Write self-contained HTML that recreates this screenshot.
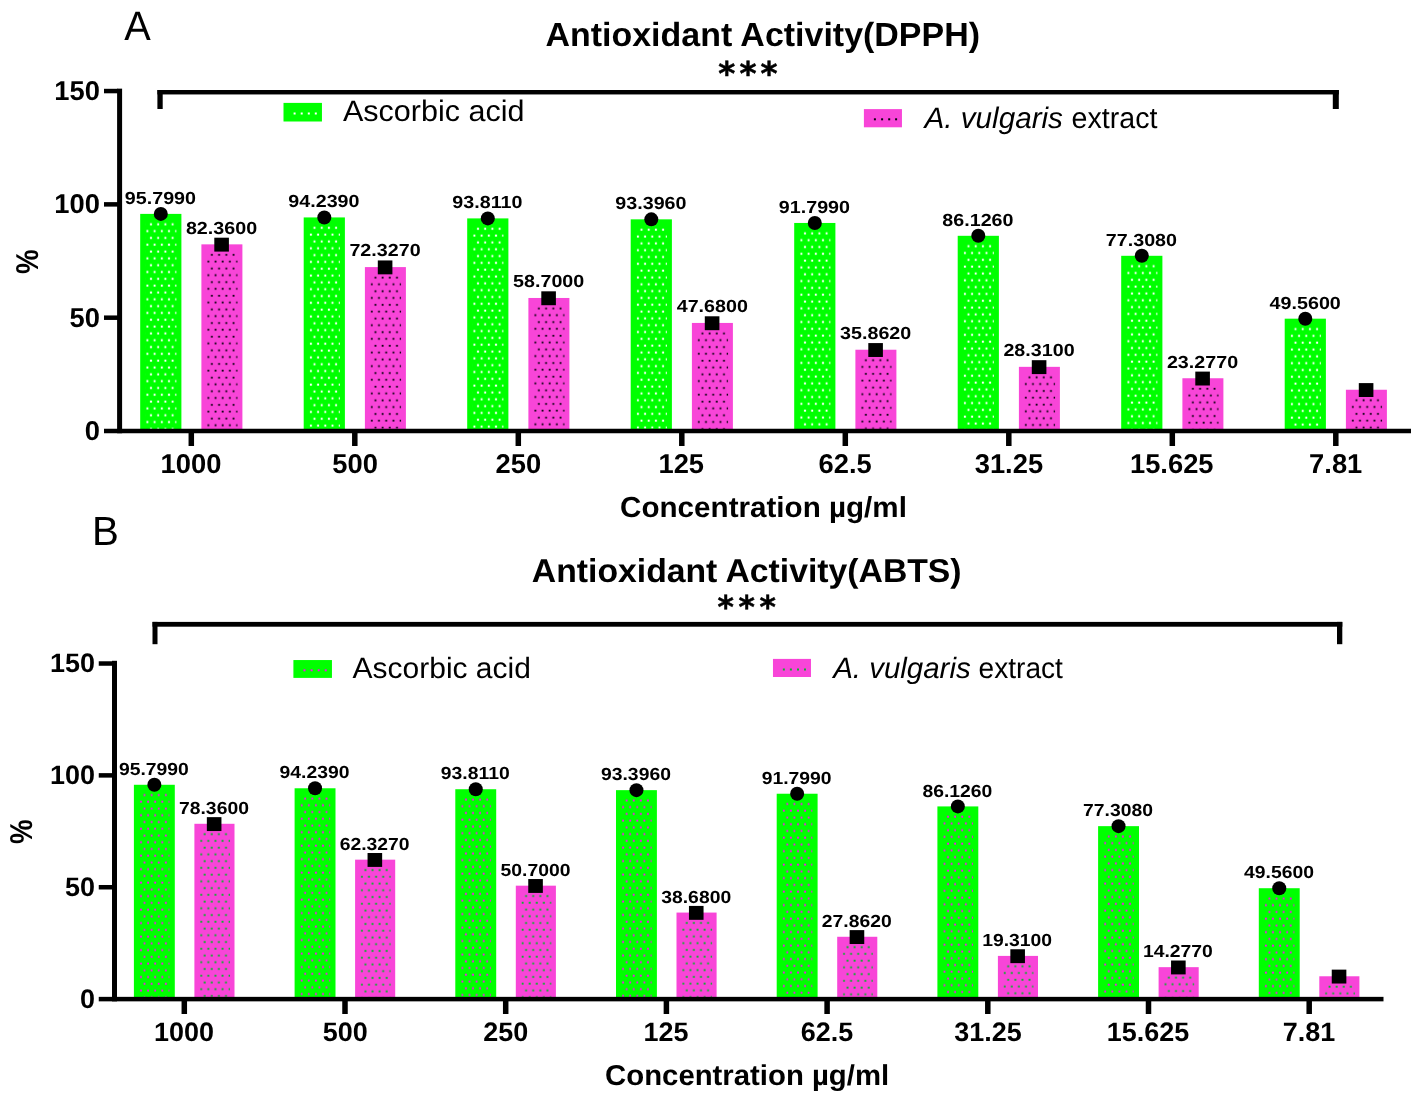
<!DOCTYPE html>
<html lang="en"><head><meta charset="utf-8"><title>Antioxidant Activity</title>
<style>html,body{margin:0;padding:0;background:#fff}svg{display:block;will-change:transform}text{text-rendering:geometricPrecision}</style></head>
<body>
<svg width="1417" height="1098" viewBox="0 0 1417 1098" font-family='"Liberation Sans", Arial, Helvetica, sans-serif' fill="#000">
<defs>
<pattern id="patAg" patternUnits="userSpaceOnUse" width="7.2" height="13.64"><rect x="2.60" y="9.40" width="2.0" height="2.0" fill="#ffffff"/><rect x="-1.00" y="2.56" width="2.0" height="2.0" fill="#ffffff"/><rect x="6.20" y="2.56" width="2.0" height="2.0" fill="#ffffff"/></pattern>
<pattern id="patAp" patternUnits="userSpaceOnUse" width="7.2" height="13.64"><rect x="2.40" y="9.60" width="1.8" height="1.8" fill="#08000c"/><rect x="-1.20" y="2.66" width="1.8" height="1.8" fill="#08000c"/><rect x="6.00" y="2.66" width="1.8" height="1.8" fill="#08000c"/></pattern>
<pattern id="patBg" patternUnits="userSpaceOnUse" width="7.1" height="13.48"><rect x="2.55" y="9.35" width="1.9" height="1.9" fill="#ff08f4"/><rect x="-0.95" y="2.57" width="1.9" height="1.9" fill="#ff08f4"/><rect x="6.15" y="2.57" width="1.9" height="1.9" fill="#ff08f4"/></pattern>
<pattern id="patBp" patternUnits="userSpaceOnUse" width="7.1" height="13.48"><rect x="2.25" y="9.45" width="1.9" height="1.9" fill="#08b428"/><rect x="-1.25" y="2.67" width="1.9" height="1.9" fill="#08b428"/><rect x="5.85" y="2.67" width="1.9" height="1.9" fill="#08b428"/></pattern>
</defs>
<rect width="1417" height="1098" fill="#fff"/>
<rect x="140.20" y="213.89" width="41.20" height="217.11" fill="#00ff00" />
<rect transform="translate(140.20,213.89)" x="5.5" y="8.0" width="30.70" height="206.86" fill="url(#patAg)"/>
<rect x="201.40" y="244.35" width="41.00" height="186.65" fill="#f845d8" />
<rect transform="translate(201.40,244.35)" x="5.5" y="8.0" width="30.70" height="176.40" fill="url(#patAp)"/>
<rect x="303.70" y="217.43" width="41.20" height="213.57" fill="#00ff00" />
<rect transform="translate(303.70,217.43)" x="5.5" y="8.0" width="30.70" height="203.32" fill="url(#patAg)"/>
<rect x="364.90" y="267.09" width="41.00" height="163.91" fill="#f845d8" />
<rect transform="translate(364.90,267.09)" x="5.5" y="8.0" width="30.70" height="153.66" fill="url(#patAp)"/>
<rect x="467.20" y="218.40" width="41.20" height="212.60" fill="#00ff00" />
<rect transform="translate(467.20,218.40)" x="5.5" y="8.0" width="30.70" height="202.35" fill="url(#patAg)"/>
<rect x="528.40" y="297.97" width="41.00" height="133.03" fill="#f845d8" />
<rect transform="translate(528.40,297.97)" x="5.5" y="8.0" width="30.70" height="122.78" fill="url(#patAp)"/>
<rect x="630.70" y="219.34" width="41.20" height="211.66" fill="#00ff00" />
<rect transform="translate(630.70,219.34)" x="5.5" y="8.0" width="30.70" height="201.41" fill="url(#patAg)"/>
<rect x="691.90" y="322.94" width="41.00" height="108.06" fill="#f845d8" />
<rect transform="translate(691.90,322.94)" x="5.5" y="8.0" width="30.70" height="97.81" fill="url(#patAp)"/>
<rect x="794.20" y="222.96" width="41.20" height="208.04" fill="#00ff00" />
<rect transform="translate(794.20,222.96)" x="5.5" y="8.0" width="30.70" height="197.79" fill="url(#patAg)"/>
<rect x="855.40" y="349.73" width="41.00" height="81.27" fill="#f845d8" />
<rect transform="translate(855.40,349.73)" x="5.5" y="8.0" width="30.70" height="71.02" fill="url(#patAp)"/>
<rect x="957.70" y="235.81" width="41.20" height="195.19" fill="#00ff00" />
<rect transform="translate(957.70,235.81)" x="5.5" y="8.0" width="30.70" height="184.94" fill="url(#patAg)"/>
<rect x="1018.90" y="366.84" width="41.00" height="64.16" fill="#f845d8" />
<rect transform="translate(1018.90,366.84)" x="5.5" y="8.0" width="30.70" height="53.91" fill="url(#patAp)"/>
<rect x="1121.20" y="255.80" width="41.20" height="175.20" fill="#00ff00" />
<rect transform="translate(1121.20,255.80)" x="5.5" y="8.0" width="30.70" height="164.95" fill="url(#patAg)"/>
<rect x="1182.40" y="378.25" width="41.00" height="52.75" fill="#f845d8" />
<rect transform="translate(1182.40,378.25)" x="5.5" y="8.0" width="30.70" height="42.50" fill="url(#patAp)"/>
<rect x="1284.70" y="318.68" width="41.20" height="112.32" fill="#00ff00" />
<rect transform="translate(1284.70,318.68)" x="5.5" y="8.0" width="30.70" height="102.07" fill="url(#patAg)"/>
<rect x="1345.90" y="389.75" width="41.00" height="41.25" fill="#f845d8" />
<rect transform="translate(1345.90,389.75)" x="5.5" y="8.0" width="30.70" height="31.00" fill="url(#patAp)"/>
<rect x="117.10" y="88.65" width="5.00" height="344.60" fill="#000" />
<rect x="104.00" y="428.75" width="1307.00" height="4.50" fill="#000" />
<rect x="104.00" y="315.44" width="14.10" height="4.50" fill="#000" />
<rect x="104.00" y="202.12" width="14.10" height="4.50" fill="#000" />
<rect x="104.00" y="88.80" width="14.10" height="4.50" fill="#000" />
<rect x="188.55" y="431.00" width="5.50" height="15.00" fill="#000" />
<rect x="352.05" y="431.00" width="5.50" height="15.00" fill="#000" />
<rect x="515.55" y="431.00" width="5.50" height="15.00" fill="#000" />
<rect x="679.05" y="431.00" width="5.50" height="15.00" fill="#000" />
<rect x="842.55" y="431.00" width="5.50" height="15.00" fill="#000" />
<rect x="1006.05" y="431.00" width="5.50" height="15.00" fill="#000" />
<rect x="1169.55" y="431.00" width="5.50" height="15.00" fill="#000" />
<rect x="1333.05" y="431.00" width="5.50" height="15.00" fill="#000" />
<text transform="translate(84.70,440.00) scale(1.0050,1)" font-size="27.20" font-weight="bold">0</text>
<text transform="translate(69.50,326.69) scale(1.0050,1)" font-size="27.20" font-weight="bold">50</text>
<text transform="translate(54.30,213.37) scale(1.0050,1)" font-size="27.20" font-weight="bold">100</text>
<text transform="translate(54.30,100.05) scale(1.0050,1)" font-size="27.20" font-weight="bold">150</text>
<text transform="translate(160.59,473.00) scale(1.0050,1)" font-size="27.20" font-weight="bold">1000</text>
<text transform="translate(332.34,473.00) scale(1.0050,1)" font-size="27.20" font-weight="bold">500</text>
<text transform="translate(495.62,473.00) scale(1.0050,1)" font-size="27.20" font-weight="bold">250</text>
<text transform="translate(658.48,473.00) scale(1.0050,1)" font-size="27.20" font-weight="bold">125</text>
<text transform="translate(818.61,473.00) scale(1.0050,1)" font-size="27.20" font-weight="bold">62.5</text>
<text transform="translate(974.72,473.00) scale(1.0050,1)" font-size="27.20" font-weight="bold">31.25</text>
<text transform="translate(1129.98,473.00) scale(1.0050,1)" font-size="27.20" font-weight="bold">15.625</text>
<text transform="translate(1309.11,473.00) scale(1.0050,1)" font-size="27.20" font-weight="bold">7.81</text>
<circle cx="160.80" cy="213.89" r="7.0" fill="#000"/>
<rect x="214.30" y="237.70" width="14.60" height="13.90" fill="#000" />
<text transform="translate(124.81,203.89) scale(1.1250,1)" font-size="17.50" font-weight="bold">95.7990</text>
<text transform="translate(185.91,233.65) scale(1.1250,1)" font-size="17.50" font-weight="bold">82.3600</text>
<circle cx="324.30" cy="217.43" r="7.0" fill="#000"/>
<rect x="377.80" y="260.44" width="14.60" height="13.90" fill="#000" />
<text transform="translate(288.31,207.43) scale(1.1250,1)" font-size="17.50" font-weight="bold">94.2390</text>
<text transform="translate(349.41,256.39) scale(1.1250,1)" font-size="17.50" font-weight="bold">72.3270</text>
<circle cx="487.80" cy="218.40" r="7.0" fill="#000"/>
<rect x="541.30" y="291.32" width="14.60" height="13.90" fill="#000" />
<text transform="translate(452.35,208.40) scale(1.1250,1)" font-size="17.50" font-weight="bold">93.8110</text>
<text transform="translate(513.06,287.27) scale(1.1250,1)" font-size="17.50" font-weight="bold">58.7000</text>
<circle cx="651.30" cy="219.34" r="7.0" fill="#000"/>
<rect x="704.80" y="316.29" width="14.60" height="13.90" fill="#000" />
<text transform="translate(615.31,209.34) scale(1.1250,1)" font-size="17.50" font-weight="bold">93.3960</text>
<text transform="translate(676.72,312.24) scale(1.1250,1)" font-size="17.50" font-weight="bold">47.6800</text>
<circle cx="814.80" cy="222.96" r="7.0" fill="#000"/>
<rect x="868.30" y="343.08" width="14.60" height="13.90" fill="#000" />
<text transform="translate(778.81,212.96) scale(1.1250,1)" font-size="17.50" font-weight="bold">91.7990</text>
<text transform="translate(840.06,339.03) scale(1.1250,1)" font-size="17.50" font-weight="bold">35.8620</text>
<circle cx="978.30" cy="235.81" r="7.0" fill="#000"/>
<rect x="1031.80" y="360.19" width="14.60" height="13.90" fill="#000" />
<text transform="translate(942.31,225.81) scale(1.1250,1)" font-size="17.50" font-weight="bold">86.1260</text>
<text transform="translate(1003.41,356.14) scale(1.1250,1)" font-size="17.50" font-weight="bold">28.3100</text>
<circle cx="1141.80" cy="255.80" r="7.0" fill="#000"/>
<rect x="1195.30" y="371.60" width="14.60" height="13.90" fill="#000" />
<text transform="translate(1105.81,245.80) scale(1.1250,1)" font-size="17.50" font-weight="bold">77.3080</text>
<text transform="translate(1166.91,367.55) scale(1.1250,1)" font-size="17.50" font-weight="bold">23.2770</text>
<circle cx="1305.30" cy="318.68" r="7.0" fill="#000"/>
<rect x="1358.80" y="383.10" width="14.60" height="13.90" fill="#000" />
<text transform="translate(1269.62,308.68) scale(1.1250,1)" font-size="17.50" font-weight="bold">49.5600</text>
<rect x="157.40" y="90.00" width="1181.40" height="4.45" fill="#000" />
<rect x="157.40" y="90.00" width="5.30" height="19.00" fill="#000" />
<rect x="1332.80" y="90.00" width="6.00" height="19.00" fill="#000" />
<text transform="translate(545.47,46.30) scale(1.0112,1)" font-size="33.60" font-weight="bold">Antioxidant Activity(DPPH)</text>
<text x="718.30" y="84.80" font-family="'DejaVu Sans', sans-serif" font-weight="bold" font-size="32.6" letter-spacing="4.05" stroke="#000" stroke-width="0.5">***</text>
<text transform="translate(620.07,517.10) scale(1.0247,1)" font-size="28.90" font-weight="bold">Concentration µg/ml</text>
<text transform="translate(37.90,261.75) rotate(-90) scale(0.875,1)" font-size="31.6" font-weight="bold" text-anchor="middle">%</text>
<text transform="translate(124.20,39.50) scale(0.9646,1)" font-size="41.20">A</text>
<rect x="283.50" y="102.90" width="38.45" height="18.60" fill="#00ff00" />
<rect x="293.60" y="112.50" width="2.00" height="2.00" fill="#ffffff" />
<rect x="300.70" y="112.50" width="2.00" height="2.00" fill="#ffffff" />
<rect x="307.80" y="112.50" width="2.00" height="2.00" fill="#ffffff" />
<rect x="314.80" y="112.50" width="2.00" height="2.00" fill="#ffffff" />
<rect x="863.90" y="109.10" width="38.05" height="18.20" fill="#f845d8" />
<rect x="873.90" y="118.30" width="2.00" height="2.00" fill="#08000c" />
<rect x="881.10" y="118.30" width="2.00" height="2.00" fill="#08000c" />
<rect x="888.20" y="118.30" width="2.00" height="2.00" fill="#08000c" />
<rect x="895.10" y="118.30" width="2.00" height="2.00" fill="#08000c" />
<text transform="translate(343.00,121.10) scale(1.0312,1)" font-size="29.60">Ascorbic acid</text>
<text transform="translate(924.55,127.50) scale(1.0016,1)" font-size="29.60" font-style="italic">A. vulgaris</text>
<text transform="translate(1071.61,127.50) scale(0.9659,1)" font-size="29.60">extract</text>
<rect x="133.90" y="784.78" width="40.90" height="214.32" fill="#00ff00" />
<rect transform="translate(133.90,784.78)" x="5.5" y="8.0" width="30.10" height="204.07" fill="url(#patBg)"/>
<rect x="194.40" y="823.79" width="40.10" height="175.31" fill="#f845d8" />
<rect transform="translate(194.40,823.79)" x="5.5" y="8.0" width="30.10" height="165.06" fill="url(#patBp)"/>
<rect x="294.60" y="788.27" width="40.90" height="210.83" fill="#00ff00" />
<rect transform="translate(294.60,788.27)" x="5.5" y="8.0" width="30.10" height="200.58" fill="url(#patBg)"/>
<rect x="355.10" y="859.66" width="40.10" height="139.44" fill="#f845d8" />
<rect transform="translate(355.10,859.66)" x="5.5" y="8.0" width="30.10" height="129.19" fill="url(#patBp)"/>
<rect x="455.30" y="789.23" width="40.90" height="209.87" fill="#00ff00" />
<rect transform="translate(455.30,789.23)" x="5.5" y="8.0" width="30.10" height="199.62" fill="url(#patBg)"/>
<rect x="515.80" y="885.67" width="40.10" height="113.43" fill="#f845d8" />
<rect transform="translate(515.80,885.67)" x="5.5" y="8.0" width="30.10" height="103.18" fill="url(#patBp)"/>
<rect x="616.00" y="790.15" width="40.90" height="208.95" fill="#00ff00" />
<rect transform="translate(616.00,790.15)" x="5.5" y="8.0" width="30.10" height="198.70" fill="url(#patBg)"/>
<rect x="676.50" y="912.57" width="40.10" height="86.53" fill="#f845d8" />
<rect transform="translate(676.50,912.57)" x="5.5" y="8.0" width="30.10" height="76.28" fill="url(#patBp)"/>
<rect x="776.70" y="793.73" width="40.90" height="205.37" fill="#00ff00" />
<rect transform="translate(776.70,793.73)" x="5.5" y="8.0" width="30.10" height="195.12" fill="url(#patBg)"/>
<rect x="837.20" y="936.77" width="40.10" height="62.33" fill="#f845d8" />
<rect transform="translate(837.20,936.77)" x="5.5" y="8.0" width="30.10" height="52.08" fill="url(#patBp)"/>
<rect x="937.40" y="806.42" width="40.90" height="192.68" fill="#00ff00" />
<rect transform="translate(937.40,806.42)" x="5.5" y="8.0" width="30.10" height="182.43" fill="url(#patBg)"/>
<rect x="997.90" y="955.90" width="40.10" height="43.20" fill="#f845d8" />
<rect transform="translate(997.90,955.90)" x="5.5" y="8.0" width="30.10" height="32.95" fill="url(#patBp)"/>
<rect x="1098.10" y="826.15" width="40.90" height="172.95" fill="#00ff00" />
<rect transform="translate(1098.10,826.15)" x="5.5" y="8.0" width="30.10" height="162.70" fill="url(#patBg)"/>
<rect x="1158.60" y="967.16" width="40.10" height="31.94" fill="#f845d8" />
<rect transform="translate(1158.60,967.16)" x="5.5" y="8.0" width="30.10" height="21.69" fill="url(#patBp)"/>
<rect x="1258.80" y="888.22" width="40.90" height="110.88" fill="#00ff00" />
<rect transform="translate(1258.80,888.22)" x="5.5" y="8.0" width="30.10" height="100.63" fill="url(#patBg)"/>
<rect x="1319.30" y="976.28" width="40.10" height="22.82" fill="#f845d8" />
<rect transform="translate(1319.30,976.28)" x="5.5" y="8.0" width="30.10" height="12.57" fill="url(#patBp)"/>
<rect x="112.00" y="660.80" width="5.00" height="340.55" fill="#000" />
<rect x="98.75" y="996.85" width="1284.75" height="4.50" fill="#000" />
<rect x="98.75" y="884.99" width="14.25" height="4.50" fill="#000" />
<rect x="98.75" y="773.13" width="14.25" height="4.50" fill="#000" />
<rect x="98.75" y="661.27" width="14.25" height="4.50" fill="#000" />
<rect x="181.55" y="999.10" width="5.50" height="14.90" fill="#000" />
<rect x="342.25" y="999.10" width="5.50" height="14.90" fill="#000" />
<rect x="502.95" y="999.10" width="5.50" height="14.90" fill="#000" />
<rect x="663.65" y="999.10" width="5.50" height="14.90" fill="#000" />
<rect x="824.35" y="999.10" width="5.50" height="14.90" fill="#000" />
<rect x="985.05" y="999.10" width="5.50" height="14.90" fill="#000" />
<rect x="1145.75" y="999.10" width="5.50" height="14.90" fill="#000" />
<rect x="1306.45" y="999.10" width="5.50" height="14.90" fill="#000" />
<text transform="translate(80.00,1007.60) scale(1.0100,1)" font-size="26.70" font-weight="bold">0</text>
<text transform="translate(65.00,895.74) scale(1.0100,1)" font-size="26.70" font-weight="bold">50</text>
<text transform="translate(50.00,783.88) scale(1.0100,1)" font-size="26.70" font-weight="bold">100</text>
<text transform="translate(50.00,672.02) scale(1.0100,1)" font-size="26.70" font-weight="bold">150</text>
<text transform="translate(154.01,1040.80) scale(1.0100,1)" font-size="26.70" font-weight="bold">1000</text>
<text transform="translate(322.84,1040.80) scale(1.0100,1)" font-size="26.70" font-weight="bold">500</text>
<text transform="translate(483.33,1040.80) scale(1.0100,1)" font-size="26.70" font-weight="bold">250</text>
<text transform="translate(643.40,1040.80) scale(1.0100,1)" font-size="26.70" font-weight="bold">125</text>
<text transform="translate(800.77,1040.80) scale(1.0100,1)" font-size="26.70" font-weight="bold">62.5</text>
<text transform="translate(954.18,1040.80) scale(1.0100,1)" font-size="26.70" font-weight="bold">31.25</text>
<text transform="translate(1106.75,1040.80) scale(1.0100,1)" font-size="26.70" font-weight="bold">15.625</text>
<text transform="translate(1282.87,1040.80) scale(1.0100,1)" font-size="26.70" font-weight="bold">7.81</text>
<circle cx="154.35" cy="784.78" r="7.0" fill="#000"/>
<rect x="206.85" y="817.14" width="14.60" height="13.90" fill="#000" />
<text transform="translate(118.89,774.88) scale(1.1050,1)" font-size="17.50" font-weight="bold">95.7990</text>
<text transform="translate(178.99,813.89) scale(1.1050,1)" font-size="17.50" font-weight="bold">78.3600</text>
<circle cx="315.05" cy="788.27" r="7.0" fill="#000"/>
<rect x="367.55" y="853.01" width="14.60" height="13.90" fill="#000" />
<text transform="translate(279.59,778.37) scale(1.1050,1)" font-size="17.50" font-weight="bold">94.2390</text>
<text transform="translate(339.69,849.76) scale(1.1050,1)" font-size="17.50" font-weight="bold">62.3270</text>
<circle cx="475.75" cy="789.23" r="7.0" fill="#000"/>
<rect x="528.25" y="879.02" width="14.60" height="13.90" fill="#000" />
<text transform="translate(440.82,779.33) scale(1.1050,1)" font-size="17.50" font-weight="bold">93.8110</text>
<text transform="translate(500.54,875.77) scale(1.1050,1)" font-size="17.50" font-weight="bold">50.7000</text>
<circle cx="636.45" cy="790.15" r="7.0" fill="#000"/>
<rect x="688.95" y="905.92" width="14.60" height="13.90" fill="#000" />
<text transform="translate(600.99,780.25) scale(1.1050,1)" font-size="17.50" font-weight="bold">93.3960</text>
<text transform="translate(661.24,902.67) scale(1.1050,1)" font-size="17.50" font-weight="bold">38.6800</text>
<circle cx="797.15" cy="793.73" r="7.0" fill="#000"/>
<rect x="849.65" y="930.12" width="14.60" height="13.90" fill="#000" />
<text transform="translate(761.69,783.83) scale(1.1050,1)" font-size="17.50" font-weight="bold">91.7990</text>
<text transform="translate(821.79,926.87) scale(1.1050,1)" font-size="17.50" font-weight="bold">27.8620</text>
<circle cx="957.85" cy="806.42" r="7.0" fill="#000"/>
<rect x="1010.35" y="949.25" width="14.60" height="13.90" fill="#000" />
<text transform="translate(922.39,796.52) scale(1.1050,1)" font-size="17.50" font-weight="bold">86.1260</text>
<text transform="translate(982.19,946.00) scale(1.1050,1)" font-size="17.50" font-weight="bold">19.3100</text>
<circle cx="1118.55" cy="826.15" r="7.0" fill="#000"/>
<rect x="1171.05" y="960.51" width="14.60" height="13.90" fill="#000" />
<text transform="translate(1083.09,816.25) scale(1.1050,1)" font-size="17.50" font-weight="bold">77.3080</text>
<text transform="translate(1142.89,957.26) scale(1.1050,1)" font-size="17.50" font-weight="bold">14.2770</text>
<circle cx="1279.25" cy="888.22" r="7.0" fill="#000"/>
<rect x="1331.75" y="969.63" width="14.60" height="13.90" fill="#000" />
<text transform="translate(1244.09,878.32) scale(1.1050,1)" font-size="17.50" font-weight="bold">49.5600</text>
<rect x="152.50" y="621.90" width="1189.80" height="4.80" fill="#000" />
<rect x="152.50" y="621.90" width="5.00" height="22.30" fill="#000" />
<rect x="1337.00" y="621.90" width="5.30" height="22.30" fill="#000" />
<text transform="translate(531.87,582.20) scale(1.0220,1)" font-size="33.00" font-weight="bold">Antioxidant Activity(ABTS)</text>
<text x="717.50" y="617.50" font-family="'DejaVu Sans', sans-serif" font-weight="bold" font-size="31.3" letter-spacing="4.6" stroke="#000" stroke-width="0.5">***</text>
<text transform="translate(605.08,1084.50) scale(1.0181,1)" font-size="28.80" font-weight="bold">Concentration µg/ml</text>
<text transform="translate(31.80,831.80) rotate(-90) scale(0.875,1)" font-size="31.6" font-weight="bold" text-anchor="middle">%</text>
<text transform="translate(92.06,545.10) scale(0.9860,1)" font-size="40.80">B</text>
<rect x="293.40" y="660.05" width="38.55" height="17.85" fill="#00ff00" />
<rect x="303.50" y="669.30" width="2.00" height="2.00" fill="#ff08f4" />
<rect x="310.60" y="669.30" width="2.00" height="2.00" fill="#ff08f4" />
<rect x="317.70" y="669.30" width="2.00" height="2.00" fill="#ff08f4" />
<rect x="324.70" y="669.30" width="2.00" height="2.00" fill="#ff08f4" />
<rect x="772.97" y="658.90" width="38.00" height="18.10" fill="#f845d8" />
<rect x="782.85" y="668.50" width="2.00" height="2.00" fill="#08b428" />
<rect x="789.90" y="668.50" width="2.00" height="2.00" fill="#08b428" />
<rect x="797.00" y="668.50" width="2.00" height="2.00" fill="#08b428" />
<rect x="804.00" y="668.50" width="2.00" height="2.00" fill="#08b428" />
<text transform="translate(352.60,678.00) scale(1.0232,1)" font-size="29.30">Ascorbic acid</text>
<text transform="translate(833.14,677.50) scale(1.0054,1)" font-size="29.30" font-style="italic">A. vulgaris</text>
<text transform="translate(978.62,677.50) scale(0.9585,1)" font-size="29.30">extract</text>
</svg>
</body></html>
